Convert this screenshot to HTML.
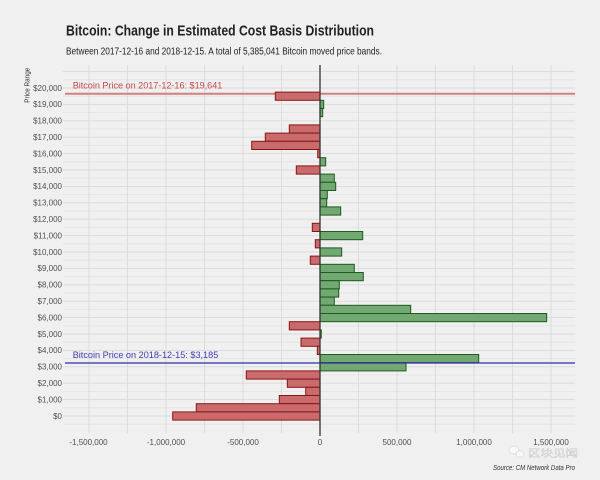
<!DOCTYPE html>
<html><head><meta charset="utf-8"><style>
html,body{margin:0;padding:0;background:#f0f0f0;}
svg{display:block;}
text{font-family:"Liberation Sans","Noto Sans CJK SC",sans-serif;}
</style></head><body>
<svg width="600" height="480" viewBox="0 0 600 480" xmlns="http://www.w3.org/2000/svg">
<rect x="0" y="0" width="600" height="480" fill="#f0f0f0"/>
<!-- title -->
<text x="66" y="35.7" font-size="15" font-weight="bold" fill="#222" textLength="308" lengthAdjust="spacingAndGlyphs">Bitcoin: Change in Estimated Cost Basis Distribution</text>
<text x="66" y="54.3" font-size="9.8" fill="#222" textLength="316" lengthAdjust="spacingAndGlyphs">Between 2017-12-16 and 2018-12-15. A total of 5,385,041 Bitcoin moved price bands.</text>
<!-- y axis title -->
<text transform="translate(29.5,102.7) rotate(-90)" font-size="7" fill="#333" textLength="35" lengthAdjust="spacingAndGlyphs">Price Range</text>
<!-- gridlines -->
<g stroke="#e2e2e2" stroke-width="0.8" fill="none">
<path d="M63 424.2H575M63 407.8H575M63 391.4H575M63 375H575M63 358.6H575M63 342.2H575M63 325.8H575M63 309.4H575M63 293H575M63 276.6H575M63 260.2H575M63 243.8H575M63 227.4H575M63 211H575M63 194.6H575M63 178.2H575M63 161.8H575M63 145.4H575M63 129H575M63 112.6H575M63 96.2H575M63 79.8H575"/>
</g>
<g stroke="#dadada" stroke-width="0.9" fill="none">
<path d="M63 416H575M63 399.6H575M63 383.2H575M63 366.8H575M63 350.4H575M63 334H575M63 317.6H575M63 301.2H575M63 284.8H575M63 268.4H575M63 252H575M63 235.6H575M63 219.2H575M63 202.8H575M63 186.4H575M63 170H575M63 153.6H575M63 137.2H575M63 120.8H575M63 104.4H575M63 88H575M63 71.6H575"/>
<path d="M89 65V433M127.5 65V433M166 65V433M204.5 65V433M243 65V433M281.5 65V433M358.5 65V433M397 65V433M435.5 65V433M474 65V433M512.5 65V433M551 65V433"/>
</g>
<!-- reference lines -->
<line x1="65" y1="93.7" x2="575" y2="93.7" stroke="#d47f80" stroke-width="2"/>
<text x="72.7" y="88.3" font-size="9.3" fill="#c4474b" textLength="149.6" lengthAdjust="spacingAndGlyphs">Bitcoin Price on 2017-12-16: $19,641</text>
<!-- bars red -->
<g fill="#c96b6c" stroke="#8a1414" stroke-width="1">
<rect x="275.3" y="92.1" width="44.7" height="8.2"/>
<rect x="289.3" y="124.9" width="30.7" height="8.2"/>
<rect x="265.3" y="133.1" width="54.7" height="8.2"/>
<rect x="251.7" y="141.3" width="68.3" height="8.2"/>
<rect x="317.7" y="149.5" width="2.3" height="8.2"/>
<rect x="296.3" y="165.9" width="23.7" height="8.2"/>
<rect x="312.3" y="223.3" width="7.7" height="8.2"/>
<rect x="315.3" y="239.7" width="4.7" height="8.2"/>
<rect x="310.3" y="256.1" width="9.7" height="8.2"/>
<rect x="289.3" y="321.7" width="30.7" height="8.2"/>
<rect x="301" y="338.1" width="19" height="8.2"/>
<rect x="317.3" y="346.3" width="2.7" height="8.2"/>
<rect x="246.3" y="370.9" width="73.7" height="8.2"/>
<rect x="287.3" y="379.1" width="32.7" height="8.2"/>
<rect x="305.7" y="387.3" width="14.3" height="8.2"/>
<rect x="279.3" y="395.5" width="40.7" height="8.2"/>
<rect x="196.3" y="403.7" width="123.7" height="8.2"/>
<rect x="172.7" y="411.9" width="147.3" height="8.2"/>
</g>
<!-- bars green -->
<g fill="#72a872" stroke="#1d5c1d" stroke-width="1">
<rect x="320" y="100.3" width="3.7" height="8.2"/>
<rect x="320" y="108.5" width="2.7" height="8.2"/>
<rect x="320" y="157.7" width="5.7" height="8.2"/>
<rect x="320" y="174.1" width="14.3" height="8.2"/>
<rect x="320" y="182.3" width="15.7" height="8.2"/>
<rect x="320" y="190.5" width="7.3" height="8.2"/>
<rect x="320" y="198.7" width="6.7" height="8.2"/>
<rect x="320" y="206.9" width="20.7" height="8.2"/>
<rect x="320" y="231.5" width="42.7" height="8.2"/>
<rect x="320" y="247.9" width="21.7" height="8.2"/>
<rect x="320" y="264.3" width="34.3" height="8.2"/>
<rect x="320" y="272.5" width="43.3" height="8.2"/>
<rect x="320" y="280.7" width="19.3" height="8.2"/>
<rect x="320" y="288.9" width="18.7" height="8.2"/>
<rect x="320" y="297.1" width="14.3" height="8.2"/>
<rect x="320" y="305.3" width="90.7" height="8.2"/>
<rect x="320" y="313.5" width="226.7" height="8.2"/>
<rect x="320" y="329.9" width="1.3" height="8.2"/>
<rect x="320" y="354.5" width="158.7" height="8.2"/>
<rect x="320" y="362.7" width="86" height="8.2"/>
</g>
<line x1="65" y1="363" x2="575" y2="363" stroke="#2e2ea8" stroke-width="1.3"/>
<text x="72.7" y="358" font-size="9.3" fill="#3d3db5" textLength="145.6" lengthAdjust="spacingAndGlyphs">Bitcoin Price on 2018-12-15: $3,185</text>
<!-- zero line -->
<line x1="320" y1="65" x2="320" y2="436" stroke="#333" stroke-width="1.3"/>
<!-- y labels -->
<g font-size="8" fill="#505050" text-anchor="end">
<text x="62" y="418.8">$0</text>
<text x="62" y="402.4">$1,000</text>
<text x="62" y="386">$2,000</text>
<text x="62" y="369.6">$3,000</text>
<text x="62" y="353.2">$4,000</text>
<text x="62" y="336.8">$5,000</text>
<text x="62" y="320.4">$6,000</text>
<text x="62" y="304">$7,000</text>
<text x="62" y="287.6">$8,000</text>
<text x="62" y="271.2">$9,000</text>
<text x="62" y="254.8">$10,000</text>
<text x="62" y="238.4">$11,000</text>
<text x="62" y="222">$12,000</text>
<text x="62" y="205.6">$13,000</text>
<text x="62" y="189.2">$14,000</text>
<text x="62" y="172.8">$15,000</text>
<text x="62" y="156.4">$16,000</text>
<text x="62" y="140">$17,000</text>
<text x="62" y="123.6">$18,000</text>
<text x="62" y="107.2">$19,000</text>
<text x="62" y="90.8">$20,000</text>
</g>
<!-- x labels -->
<g font-size="8" fill="#505050" text-anchor="middle">
<text x="88.5" y="445">-1,500,000</text>
<text x="166" y="445">-1,000,000</text>
<text x="243" y="445">-500,000</text>
<text x="320" y="445">0</text>
<text x="397" y="445">500,000</text>
<text x="474" y="445">1,000,000</text>
<text x="551" y="445">1,500,000</text>
</g>
<!-- watermark -->
<g opacity="0.55">
<ellipse cx="514" cy="450" rx="5" ry="4" fill="#fff" stroke="#aaa" stroke-width="0.5"/>
<ellipse cx="520" cy="454" rx="4" ry="3.3" fill="#fff" stroke="#aaa" stroke-width="0.5"/>
<text x="528" y="457" font-size="10" fill="#fff" stroke="#999" stroke-width="0.35" textLength="50" lengthAdjust="spacingAndGlyphs">区块见闻</text>
</g>
<text x="575" y="470" font-size="7" font-style="italic" fill="#333" text-anchor="end" textLength="82" lengthAdjust="spacingAndGlyphs">Source: CM Network Data Pro</text>
</svg>
</body></html>
